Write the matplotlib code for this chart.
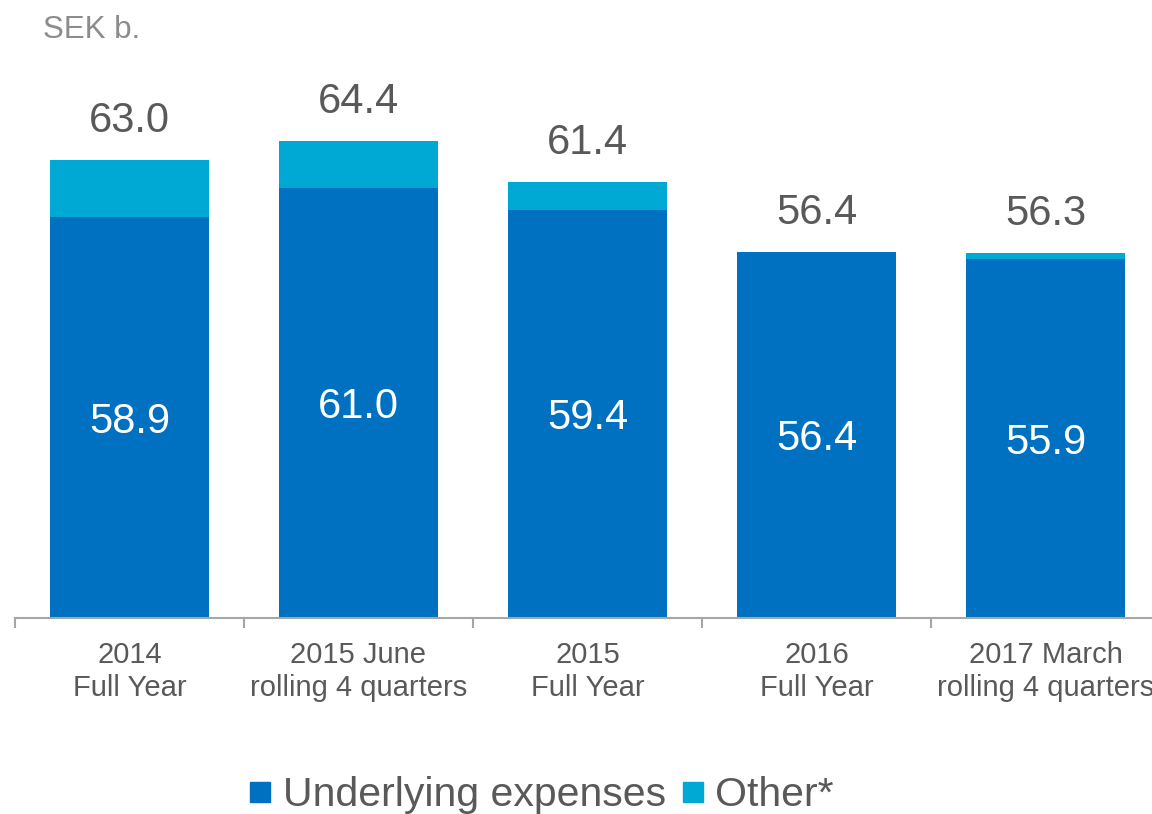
import matplotlib
matplotlib.use("Agg")
import matplotlib.pyplot as plt
from matplotlib.lines import Line2D
import numpy as np

# DATA
categories = ["2014\nFull Year", "2015 June\nrolling 4 quarters", "2015\nFull Year",
              "2016\nFull Year", "2017 March\nrolling 4 quarters"]
underlying = [58.9, 61.0, 59.4, 56.4, 55.9]
totals = [63.0, 64.4, 61.4, 56.4, 56.3]
other = [round(t - u, 1) for t, u in zip(totals, underlying)]

c_under = "#0070C0"
c_other = "#00A9D4"
c_text = "#595959"

plt.rcParams['font.family'] = ['Liberation Sans', 'DejaVu Sans']

fig = plt.figure(figsize=(11.52, 8.14), dpi=100)
ax = fig.add_axes([15 / 1152, 1 - 618 / 814, 1145 / 1152, 618 / 814])

x = np.arange(len(categories))
w = 0.69
ax.bar(x, underlying, w, bottom=0, color=c_under, zorder=2)
ax.bar(x, other, w, bottom=underlying, color=c_other, zorder=2)

ax.set_ylim(30, 30 + 618 / 13.88)
ax.set_xlim(-0.5, len(categories) - 0.5)

# labels
for i in range(len(categories)):
    ax.annotate(f"{totals[i]:.1f}", (x[i], totals[i]), xytext=(0, 20),
                textcoords="offset points", ha="center", va="baseline",
                fontsize=30, color=c_text)
    ax.text(x[i], (30 + underlying[i]) / 2, f"{underlying[i]:.1f}", ha="center",
            va="center_baseline", fontsize=30, color="white")

# axes styling
for s in ["top", "right", "left"]:
    ax.spines[s].set_visible(False)
ax.spines["bottom"].set_color("#A6A6A6")
ax.spines["bottom"].set_linewidth(1.5)
ax.set_yticks([])
ax.set_xticks(x)
ax.set_xticklabels(categories, fontsize=21, color=c_text, linespacing=1.25)
ax.tick_params(axis="x", which="major", length=0, pad=16.5)
ax.set_xticks(np.arange(-0.5, len(categories) + 0.5, 1), minor=True)
ax.tick_params(axis="x", which="minor", length=7, width=1.5, color="#A6A6A6")

fig.text(43 / 1152, 1 - 38 / 814, "SEK b.", fontsize=22.5, color="#8C8C8C",
         va="baseline", ha="left")

handles = [Line2D([], [], marker="s", linestyle="none", markersize=14.5, color=c_under),
           Line2D([], [], marker="s", linestyle="none", markersize=14.5, color=c_other)]
fig.legend(handles, ["Underlying expenses", "Other*"], loc="center",
           bbox_to_anchor=(542 / 1152, 1 - 795 / 814), ncol=2, frameon=False,
           fontsize=29.5, labelcolor=c_text, handlelength=0.5, handletextpad=0.3,
           columnspacing=0.4, borderpad=0)

fig.savefig("out.png", dpi=100)
